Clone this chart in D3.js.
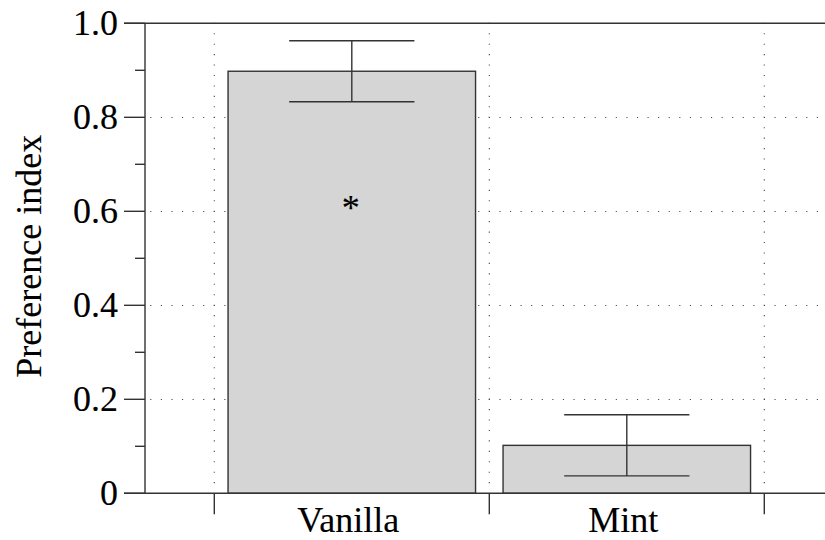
<!DOCTYPE html>
<html>
<head>
<meta charset="utf-8">
<script src="https://cdn.jsdelivr.net/npm/d3@7"></script>
<style>
  html, body { margin: 0; padding: 0; background: #fff; }
  svg { display: block; }
  text { font-family: "Liberation Serif", "Times New Roman", serif; fill: #000; stroke: #000; stroke-width: 0.12px; }
</style>
</head>
<body>
<script>
// ---- data ----
const categories = ["Vanilla", "Mint"];
const means = [0.898, 0.102];
const errors = [0.065, 0.065];
const significance = ["*", ""];
const yMajorTicks = [0, 0.2, 0.4, 0.6, 0.8, 1.0];
const yTickLabels = ["0", "0.2", "0.4", "0.6", "0.8", "1.0"];
const yMinorTicks = [0.1, 0.3, 0.5, 0.7, 0.9];
const gridValues = [0.2, 0.4, 0.6, 0.8];
const yLabel = "Preference index";

// ---- layout ----
const W = 825, H = 540;
const plotLeft = 145, plotRight = 825, plotTop = 23.3, plotBottom = 493.3;
const fontSize = 36;
const axisColor = "#333";
const lw = 1.4;

const svg = d3.select("body").append("svg").attr("width", W).attr("height", H);

const y = d3.scaleLinear().domain([0, 1]).range([plotBottom, plotTop]);
const x = d3.scaleBand().domain(categories).range([214.3, 764.3])
  .paddingInner(0.1).paddingOuter(0.05);
const step = x.step();
const boundaries = categories.map(c => x(c) - step * x.paddingOuter())
  .concat([x(categories[categories.length - 1]) + x.bandwidth() + step * x.paddingOuter()]);

// ---- grid (dotted) ----
const hPeriod = 10.58, vPeriod = 10.44;
const grid = svg.append("g").attr("stroke", "#444").attr("stroke-width", 1.1);
gridValues.forEach(v => {
  const start = plotLeft + 4;
  const off = hPeriod - (((boundaries[0] - 0.55 - start) % hPeriod) + hPeriod) % hPeriod;
  grid.append("line")
    .attr("x1", start).attr("x2", plotRight)
    .attr("y1", Math.round(y(v)) + 0.5).attr("y2", Math.round(y(v)) + 0.5)
    .attr("stroke-dasharray", `1.1 ${hPeriod - 1.1}`)
    .attr("stroke-dashoffset", off % hPeriod);
});
boundaries.forEach(b => {
  grid.append("line")
    .attr("x1", b).attr("x2", b)
    .attr("y1", y(1) - 0.55).attr("y2", plotBottom - 3)
    .attr("stroke-dasharray", `1.1 ${vPeriod - 1.1}`);
});

// ---- bars ----
svg.append("g").selectAll("rect").data(categories).join("rect")
  .attr("x", c => x(c))
  .attr("y", (c, i) => y(means[i]))
  .attr("width", x.bandwidth())
  .attr("height", (c, i) => y(0) - y(means[i]))
  .attr("fill", "#d5d5d5")
  .attr("stroke", axisColor)
  .attr("stroke-width", lw);

// ---- axes ----
const axes = svg.append("g").attr("stroke", axisColor).attr("stroke-width", lw).attr("fill", "none");
axes.append("line").attr("x1", plotLeft).attr("x2", plotLeft).attr("y1", plotTop).attr("y2", plotBottom);
[0, 1].forEach(v => {
  axes.append("line").attr("x1", plotLeft - 21).attr("x2", plotRight)
    .attr("y1", y(v)).attr("y2", y(v));
});
yMajorTicks.forEach(v => {
  axes.append("line").attr("x1", plotLeft - 21).attr("x2", plotLeft).attr("y1", y(v)).attr("y2", y(v));
});
yMinorTicks.forEach(v => {
  axes.append("line").attr("x1", plotLeft - 10).attr("x2", plotLeft).attr("y1", y(v)).attr("y2", y(v));
});
boundaries.forEach(b => {
  axes.append("line").attr("x1", b).attr("x2", b).attr("y1", plotBottom).attr("y2", plotBottom + 21);
});

// y tick labels
svg.append("g").selectAll("text").data(yMajorTicks).join("text")
  .attr("x", plotLeft - 27)
  .attr("y", v => y(v))
  .attr("dy", "0.33em")
  .attr("text-anchor", "end")
  .attr("font-size", fontSize)
  .text((v, i) => yTickLabels[i]);

// x labels
svg.append("g").selectAll("text").data(categories).join("text")
  .attr("x", c => x(c) + x.bandwidth() / 2 - 3.5)
  .attr("y", 531.7)
  .attr("text-anchor", "middle")
  .attr("font-size", fontSize)
  .text(c => c);

// y label
svg.append("text")
  .attr("transform", `translate(41, ${(plotTop + plotBottom) / 2 - 2}) rotate(-90)`)
  .attr("text-anchor", "middle")
  .attr("font-size", fontSize)
  .text(yLabel);

// ---- error bars ----
const eb = svg.append("g").attr("stroke", axisColor).attr("stroke-width", lw);
categories.forEach((c, i) => {
  const cx = x(c) + x.bandwidth() / 2;
  const capHalf = x.bandwidth() * 0.253;
  const top = y(means[i] + errors[i]), bot = y(means[i] - errors[i]);
  eb.append("line").attr("x1", cx).attr("x2", cx).attr("y1", top).attr("y2", bot);
  eb.append("line").attr("x1", cx - capHalf).attr("x2", cx + capHalf).attr("y1", top).attr("y2", top);
  eb.append("line").attr("x1", cx - capHalf).attr("x2", cx + capHalf).attr("y1", bot).attr("y2", bot);
});

// significance markers
svg.append("g").selectAll("text").data(categories).join("text")
  .attr("x", c => x(c) + x.bandwidth() / 2 - 1)
  .attr("y", 220)
  .attr("text-anchor", "middle")
  .attr("font-size", fontSize)
  .text((c, i) => significance[i]);
</script>
</body>
</html>
